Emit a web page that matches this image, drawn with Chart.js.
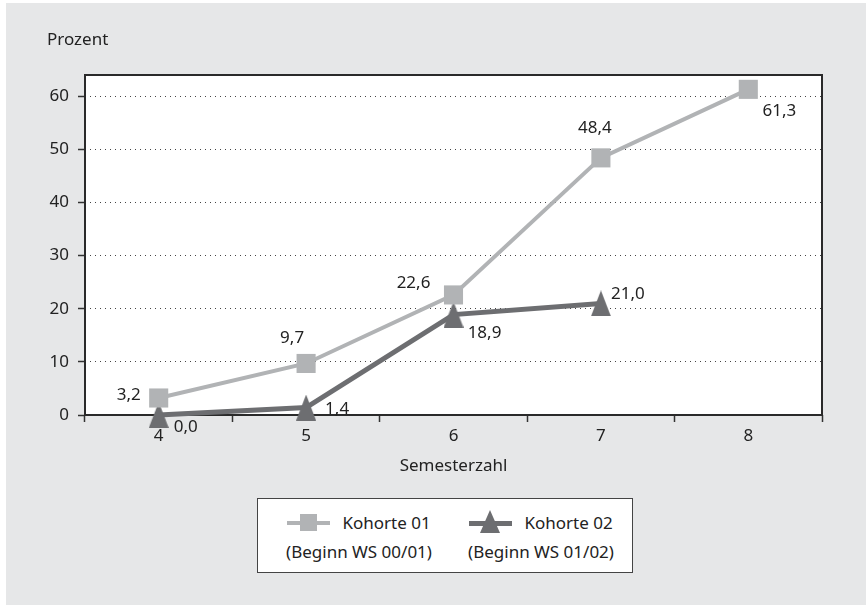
<!DOCTYPE html>
<html>
<head>
<meta charset="utf-8">
<script src="https://cdn.jsdelivr.net/npm/chart.js@4.4.1/dist/chart.umd.min.js"></script>
<style>
  html, body { margin: 0; padding: 0; background: #fff; }
  #wrap { position: relative; width: 866px; height: 605px; font-family: "Noto Sans", sans-serif; color: #222; }
  #bg { position: absolute; left: 6px; top: 3px; width: 860px; height: 602px; background: #e6e7e8; }
  #myChart { position: absolute; left: 0; top: 0; }
  #legend { position: absolute; left: 257px; top: 498px; width: 374px; height: 73px; background: #fff; border: 1px solid #444; font-size: 17px; }
  .col { position: absolute; top: 9px; text-align: center; line-height: 29px; white-space: nowrap; }
  .row1 { display: flex; align-items: center; justify-content: center; gap: 12px; }
  .mark { position: relative; width: 43px; height: 20px; }
  .mark .ln { position: absolute; left: 0; right: 0; top: 8px; height: 4px; }
  .sq { position: absolute; left: 13px; top: 1px; width: 17px; height: 17px; background: #b1b3b5; }
  .tri { position: absolute; left: 11px; top: -3px; width: 0; height: 0; border-left: 10px solid transparent; border-right: 10px solid transparent; border-bottom: 23px solid #6d6e71; }
</style>
</head>
<body>
<div id="wrap">
  <div id="bg"></div>
  <canvas id="myChart" width="866" height="605"></canvas>
  <div id="legend">
    <div class="col" style="left:16px; width:170px;">
      <div class="row1"><div class="mark"><div class="ln" style="background:#b1b3b5"></div><div class="sq"></div></div><span>Kohorte 01</span></div>
      <div>(Beginn WS 00/01)</div>
    </div>
    <div class="col" style="left:198px; width:170px;">
      <div class="row1"><div class="mark"><div class="ln" style="background:#6d6e71;height:5px"></div><div class="tri"></div></div><span>Kohorte 02</span></div>
      <div>(Beginn WS 01/02)</div>
    </div>
  </div>
</div>
<script>
const semester = ['4', '5', '6', '7', '8'];
const kohorte01 = [3.2, 9.7, 22.6, 48.4, 61.3];
const kohorte02 = [0.0, 1.4, 18.9, 21.0, null];
const yTicks = [0, 10, 20, 30, 40, 50, 60];

// label offsets (px) relative to each point
const offsets01 = [[-30, -3], [-14, -25], [-40, -12], [-6, -30], [31, 22]];
const offsets02 = [[27, 12], [31, 2], [31, 19], [27, -9]];

const FONT = '"Noto Sans", sans-serif';
const FSIZE = 17;

function makeTriangle() {
    const c = document.createElement('canvas');
    c.width = 20; c.height = 26;
    const g = c.getContext('2d');
    g.fillStyle = '#6d6e71';
    g.beginPath();
    g.moveTo(10, 0); g.lineTo(20, 26); g.lineTo(0, 26); g.closePath();
    g.fill();
    return c;
}

const labelsPlugin = {
    id: 'extras',
    beforeDraw(chart) {
        const a = chart.chartArea;
        chart.ctx.save();
        chart.ctx.fillStyle = '#fff';
        chart.ctx.fillRect(a.left, a.top, a.right - a.left, a.bottom - a.top);
        chart.ctx.restore();
    },
    beforeDatasetsDraw(chart) {
        // plot frame, solid on all four sides
        const ctx = chart.ctx;
        const a = chart.chartArea;
        ctx.save();
        ctx.setLineDash([]);
        ctx.strokeStyle = '#2a2a2a';
        ctx.lineWidth = 2;
        ctx.strokeRect(Math.round(a.left), Math.round(a.top), Math.round(a.right - a.left), Math.round(a.bottom - a.top));
        ctx.restore();
    },
    afterDatasetsDraw(chart) {
        const ctx = chart.ctx;
        ctx.save();
        ctx.font = FSIZE + 'px ' + FONT;
        ctx.fillStyle = '#222';
        ctx.textAlign = 'center';
        ctx.textBaseline = 'middle';
        [offsets01, offsets02].forEach((offs, di) => {
            const meta = chart.getDatasetMeta(di);
            const vals = chart.data.datasets[di].data;
            meta.data.forEach((pt, i) => {
                if (vals[i] === null) return;
                const txt = vals[i].toFixed(1).replace('.', ',');
                ctx.fillText(txt, pt.x + offs[i][0], pt.y + offs[i][1]);
            });
        });
        ctx.restore();
    },
    afterDraw(chart) {
        const ctx = chart.ctx;
        const a = chart.chartArea;
        ctx.save();
        ctx.font = FSIZE + 'px ' + FONT;
        ctx.fillStyle = '#222';
        ctx.textBaseline = 'middle';
        ctx.textAlign = 'left';
        ctx.fillText('Prozent', 47, 40);
        ctx.textAlign = 'center';
        ctx.fillText('Semesterzahl', (a.left + a.right) / 2, 466);
        ctx.restore();
    }
};

const ctx = document.getElementById('myChart').getContext('2d');
const myChart = new Chart(ctx, {
    type: 'line',
    data: {
        labels: semester,
        datasets: [{
            label: 'Kohorte 01',
            data: kohorte01,
            borderColor: '#b1b3b5',
            backgroundColor: '#b1b3b5',
            borderWidth: 4,
            pointStyle: 'rect',
            pointRadius: 13.5,
            pointBorderWidth: 0,
            clip: false,
        }, {
            label: 'Kohorte 02',
            data: kohorte02,
            borderColor: '#6d6e71',
            backgroundColor: '#6d6e71',
            borderWidth: 5,
            pointStyle: makeTriangle(),
            pointRadius: 13,
            clip: false,
        }]
    },
    options: {
        responsive: false,
        animation: false,
        layout: { padding: { left: 0, top: 75, right: 44, bottom: 150 } },
        plugins: {
            legend: { display: false },
            tooltip: { enabled: false }
        },
        scales: {
            x: {
                offset: true,
                grid: {
                    offset: true,
                    drawOnChartArea: false,
                    drawTicks: true,
                    tickLength: 7,
                    tickColor: '#333',
                    tickWidth: 1.5
                },
                border: { display: false },
                ticks: { color: '#222', font: { family: FONT, size: FSIZE }, padding: 4 },
                afterFit: s => { s.height = 40; }
            },
            y: {
                min: 0,
                max: 64,
                afterBuildTicks: s => { s.ticks = yTicks.map(v => ({ value: v })); },
                grid: {
                    color: '#444',
                    lineWidth: 1,
                    tickLength: 7,
                    tickColor: '#333',
                    tickBorderDash: [],
                    tickWidth: 1.5
                },
                border: { display: false, dash: [1, 4] },
                ticks: { color: '#222', font: { family: FONT, size: FSIZE }, padding: 9 },
                afterFit: s => { s.width = 85; }
            }
        }
    },
    plugins: [labelsPlugin]
});
</script>
</body>
</html>
